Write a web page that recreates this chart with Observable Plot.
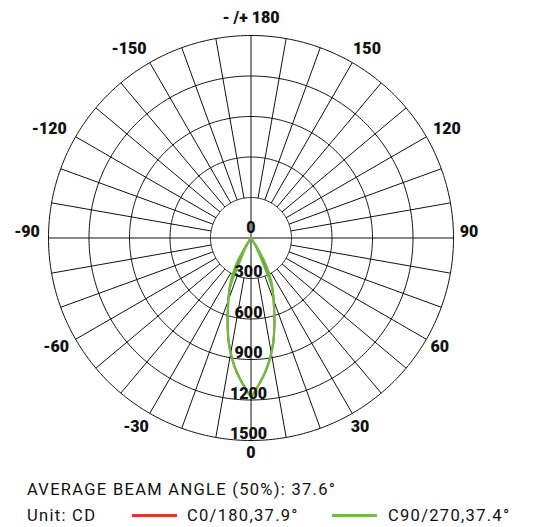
<!DOCTYPE html>
<html><head><meta charset="utf-8">
<script src="https://cdn.jsdelivr.net/npm/d3@7"></script>
<script src="https://cdn.jsdelivr.net/npm/@observablehq/plot@0.6"></script>
<style>
body{margin:0;background:#fff;}
#wrap{position:relative;width:540px;height:527px;font-family:Roboto,sans-serif;color:#111;}
#chart{position:absolute;left:0;top:0;}
.cap{position:absolute;font-size:16.5px;line-height:20px;letter-spacing:1.3px;white-space:nowrap;}
.sw{position:absolute;height:3px;}
</style></head><body>
<div id="wrap"><div id="chart"></div></div>
<script>
// ---- data ----
const ringValues = [300, 600, 900, 1200, 1500];
const ringLabels = ["0", "300", "600", "900", "1200", "1500"];
const ringLabelValues = [0, 300, 600, 900, 1200, 1500];
const angleTicks = [0, 30, 60, 90, 120, 150, 180, -150, -120, -90, -60, -30];
const angleTickLabels = ["0", "30", "60", "90", "120", "150", "- /+ 180", "-150", "-120", "-90", "-60", "-30"];

// C0/180 (red): gamma angle (deg) and intensity (cd)
const redAngles = [0, 3, 6, 9, 12, 15, 18, 21, 24, 27, 30, 33, 36];
const redCd     = [1165, 1088, 1002, 905, 795, 672, 558, 465, 360, 230, 120, 40, 0];
// C90/270 (green), outer trace
const greenOuterAngles = [0, 3, 6, 9, 12, 15, 18, 21, 24, 27, 30, 32, 34, 36, 38];
const greenOuterCd     = [1170, 1090, 1000, 900, 790, 665, 550, 460, 390, 300, 210, 120, 50, 10, 0];
// C90/270 (green), inner trace
const greenInnerAngles = [0, 3, 6, 9, 12, 15, 18, 21, 23, 24, 25, 27, 30, 33, 36];
const greenInnerCd     = [1170, 1090, 1000, 900, 790, 665, 550, 460, 400, 300, 200, 120, 60, 20, 0];

const beamText = "AVERAGE BEAM ANGLE (50%): 37.6°";
const unitText = "Unit: CD";
const legendNames = ["C0/180,37.9°", "C90/270,37.4°"];

// ---- styles / layout ----
const RED = "#e8322f", GREEN = "#6cbd45", INK = "#111";
const W = 540, H = 470, CX = 250.5, CY = 237.5, K = 0.135; // px per cd
const rad = d => d * Math.PI / 180;
const px = (a, v) => v * Math.sin(rad(a));
const py = (a, v) => -v * Math.cos(rad(a));

// grid rings
const ringPts = [];
for (const r of ringValues) for (let a = 0; a <= 360; a += 1) ringPts.push({ring: r, x: px(a, r), y: py(a, r)});
// spokes every 10 degrees
const spokes = [];
for (let a = -170; a <= 180; a += 10) {
  const r0 = (a % 90 === 0) ? 0 : ringValues[0];
  spokes.push({x1: px(a, r0), y1: py(a, r0), x2: px(a, 1500), y2: py(a, 1500)});
}
// curves mirrored to both sides of the vertical axis
function trace(angles, cds) {
  const pts = [];
  for (let i = angles.length - 1; i > 0; i--) pts.push({x: px(-angles[i], cds[i]), y: py(-angles[i], cds[i])});
  for (let i = 0; i < angles.length; i++) pts.push({x: px(angles[i], cds[i]), y: py(angles[i], cds[i])});
  return pts;
}
const redPts = trace(redAngles, redCd);
const gOutPts = trace(greenOuterAngles, greenOuterCd);
const gInPts = trace(greenInnerAngles, greenInnerCd);

// radial value labels (sit just above their ring on the 0 axis)
const ringLab = ringLabels.map((t, i) => ({
  text: t, x: (t.length > 2 ? -2.5 / K : 0), y: -ringLabelValues[i] + (i === 0 ? 10 : 6.5) / K
}));
// angle labels
const RL = 218 / K;
const angLab = angleTicks.map((a, i) => {
  const t = angleTickLabels[i];
  const s = Math.sign(Math.round(Math.sin(rad(a)) * 1000));
  let dx = 0;
  if (t.startsWith("-") && a !== 180) dx -= 6;
  if (t.replace("-", "").length === 3 && a !== 180) dx += s * 7;
  let dy = 0;
  if (Math.abs(a) === 90) dy = 6;
  if (a === 0) dy = 3.5;
  if (a === 180) dy = 2;
  return {text: t, x: px(a, RL) + dx / K, y: py(a, RL) + dy / K};
});

const fontStyle = {fontFamily: "Roboto, sans-serif", fontWeight: 900, fontSize: 16, fill: INK};

const chart = Plot.plot({
  width: W, height: H, margin: 0,
  x: {domain: [-CX / K, (W - CX) / K], axis: null},
  y: {domain: [-(H - CY) / K, CY / K], axis: null},
  marks: [
    Plot.line(ringPts, {x: "x", y: "y", z: "ring", stroke: INK, strokeWidth: 1}),
    Plot.link(spokes, {x1: "x1", y1: "y1", x2: "x2", y2: "y2", stroke: INK, strokeWidth: 1}),
    Plot.line(redPts, {x: "x", y: "y", stroke: RED, strokeWidth: 2, curve: "catmull-rom"}),
    Plot.line(gOutPts, {x: "x", y: "y", stroke: GREEN, strokeWidth: 2, curve: "catmull-rom"}),
    Plot.line(gInPts, {x: "x", y: "y", stroke: GREEN, strokeWidth: 2, curve: "catmull-rom"}),
    Plot.text(ringLab, {x: "x", y: "y", text: "text", ...fontStyle}),
    Plot.text(angLab, {x: "x", y: "y", text: "text", ...fontStyle})
  ]
});
document.getElementById("chart").appendChild(chart);

// caption + legend
const wrap = document.getElementById("wrap");
function addText(t, left, top) {
  const d = document.createElement("div");
  d.className = "cap"; d.textContent = t;
  d.style.left = left + "px"; d.style.top = top + "px";
  wrap.appendChild(d);
}
function addSwatch(color, left, width, top) {
  const d = document.createElement("div");
  d.className = "sw"; d.style.background = color;
  d.style.left = left + "px"; d.style.width = width + "px"; d.style.top = top + "px";
  wrap.appendChild(d);
}
addText(beamText, 27, 479.5);
addText(unitText, 27, 506);
const legendColors = [RED, GREEN];
const swLeft = [132, 332], txtLeft = [187, 388];
legendNames.forEach((n, i) => {
  addSwatch(legendColors[i], swLeft[i], 45, 513.5);
  addText(n, txtLeft[i], 506);
});
</script>
</body></html>
